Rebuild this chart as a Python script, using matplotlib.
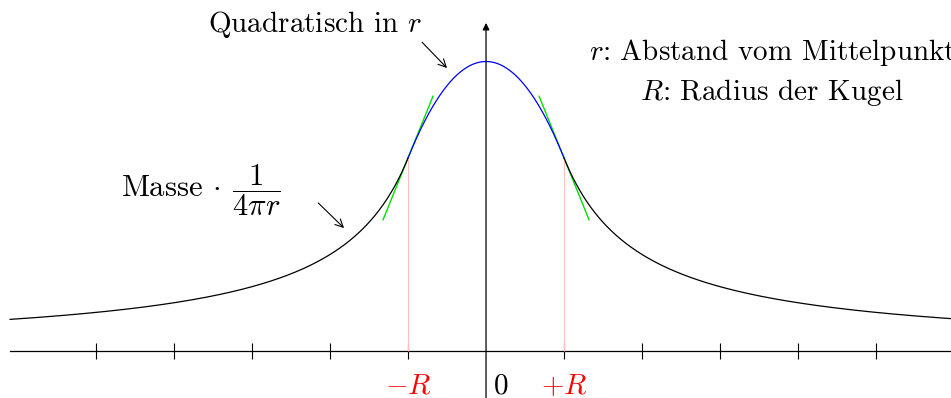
import numpy as np
import matplotlib.pyplot as plt

plt.rcParams['font.family'] = 'cmr10'
plt.rcParams['mathtext.fontset'] = 'cm'
plt.rcParams['axes.unicode_minus'] = False

# sphere radius and tick positions (multiples of R)
R = 1.0
tick_pos = [-5, -4, -3, -2, -1, 1, 2, 3, 4, 5]
r_left, r_right = -6.23, 5.96

# potential: 1/r outside, quadratic inside (matched at r = R)
def outside(r):
    return 1.0 / np.abs(r)

def inside(r):
    return (3 * R**2 - r**2) / (2 * R**3)

fig = plt.figure(figsize=(9.51, 3.98), dpi=100)
ax = fig.add_axes([0, 0, 1, 1])
ax.set_xlim(r_left, r_right)
ax.set_ylim(-0.2435, 1.8187)
ax.axis('off')

# axes
ax.plot([r_left + 0.13, r_right], [0, 0], color='black', lw=0.9)
ax.annotate('', xy=(0, 1.70), xytext=(0, -0.26),
            arrowprops=dict(arrowstyle='-|>', color='black', lw=0.9,
                            mutation_scale=10, shrinkA=0, shrinkB=0))
ax.vlines(tick_pos, -0.041, 0.041, color='black', lw=0.8)

# pink markers at +-R
ax.vlines([-R, R], 0, outside(R), color='#ffbfbf', lw=0.8)

# curves
rl = np.linspace(r_left + 0.13, -R, 400)
rr = np.linspace(R, r_right, 400)
ri = np.linspace(-R, R, 300)
ax.plot(rl, outside(rl), color='black', lw=0.9)
ax.plot(rr, outside(rr), color='black', lw=0.9)
ax.plot(ri, inside(ri), color='blue', lw=0.9)

# tangents at +-R (slope of 1/r there)
for s in (-1, 1):
    t = np.array([-0.32, 0.32]) + s * R
    ax.plot(t, outside(R) - s * (t - s * R) / R, color='#00e000', lw=1.0, zorder=1)

# labels
fs = 21
ax.text(-R, -0.185, r'$-R$', color='red', fontsize=fs, ha='center', va='center')
ax.text(R, -0.185, r'$+R$', color='red', fontsize=fs, ha='center', va='center')
ax.text(0.1, -0.185, '0', color='black', fontsize=fs, ha='left', va='center')

ax.text(-2.19, 1.69, r'Quadratisch in $r$', fontsize=fs, ha='center', va='center')
ax.annotate('', xy=(-0.5, 1.466), xytext=(-0.82, 1.60),
            arrowprops=dict(arrowstyle='->', color='black', lw=0.8,
                            mutation_scale=14, shrinkA=0, shrinkB=0))

ax.text(-3.66, 0.834, r'Masse $\cdot\;\,\dfrac{1}{4\pi r}$', fontsize=fs + 1,
        ha='center', va='center')
ax.annotate('', xy=(-1.82, 0.637), xytext=(-2.15, 0.767),
            arrowprops=dict(arrowstyle='->', color='black', lw=0.8,
                            mutation_scale=14, shrinkA=0, shrinkB=0))

ax.text(3.67, 1.549, r'$r$: Abstand vom Mittelpunkt', fontsize=fs,
        ha='center', va='center')
ax.text(3.67, 1.342, r'$R$: Radius der Kugel', fontsize=fs,
        ha='center', va='center')

fig.savefig('out.png', dpi=100)
